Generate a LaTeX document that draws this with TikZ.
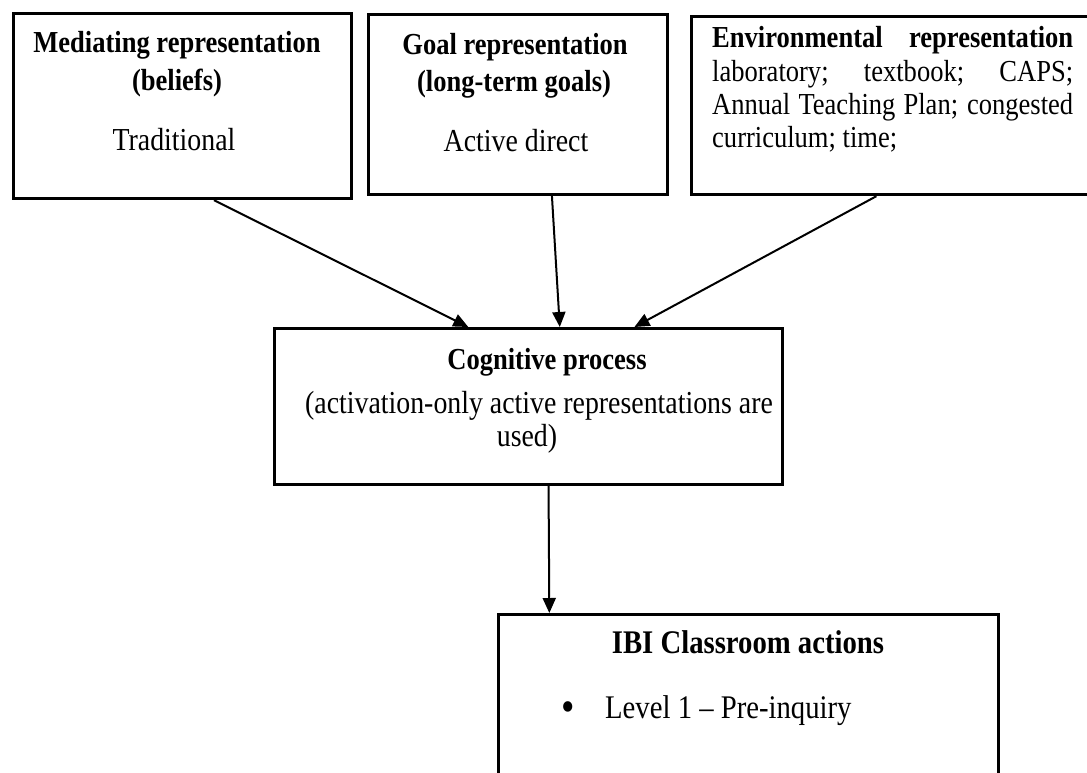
\documentclass[tikz,border=0pt]{standalone}
\usepackage{fontspec}
\setmainfont{Liberation Serif}[FakeStretch=0.87]
\usetikzlibrary{arrows.meta,calc}

\tikzset{
  box/.style={draw=black, line width=3.2pt, inner sep=0pt, anchor=north west},
  txt/.style={inner sep=0pt, font=\fontsize{32pt}{38pt}\selectfont},
  btxt/.style={inner sep=0pt, font=\fontsize{30.5pt}{36pt}\selectfont\bfseries},
  jtxt/.style={inner sep=0pt, font=\fontsize{30.5pt}{36pt}\selectfont},
  link/.style={line width=2pt, -{Triangle[length=15pt,width=13pt]}},
}

\begin{document}
\begin{tikzpicture}[x=1pt, y=-1pt]
  \useasboundingbox[fill=white] (0,0) rectangle (1087,772);

  % upper row of representations
  \node[box, minimum width=338pt, minimum height=185pt] (med) at (12,12) {};
  \node[box, minimum width=299pt, minimum height=180pt] (goal) at (367,13) {};
  \node[box, minimum width=410pt, minimum height=178pt] (env) at (690,15) {};

  % central process and resulting actions
  \node[box, minimum width=508pt, minimum height=156pt] (cog) at (273,327) {};
  \node[box, minimum width=500pt, minimum height=200pt] (ibi) at (497,613) {};

  % texts of the mediating representation
  \node[btxt, anchor=base] (m1) at (177,52) {Mediating representation};
  \node[btxt, anchor=base] (m2) at (177,90) {(beliefs)};
  \node[txt, anchor=base] (m3) at (174,150) {Traditional};

  % texts of the goal representation
  \node[btxt, anchor=base] (g1) at (515,54) {Goal representation};
  \node[btxt, anchor=base] (g2) at (514,91) {(long-term goals)};
  \node[txt, anchor=base] (g3) at (516,151) {Active direct};

  % justified texts of the environmental representation
  \node[btxt, anchor=base west] (e1) at (712,47) {\makebox[361pt][s]{Environmental representation}};
  \node[jtxt, anchor=base west] (e2) at (712,81) {\makebox[361pt][s]{laboratory; textbook; CAPS;}};
  \node[jtxt, anchor=base west] (e3) at (712,114) {\makebox[361pt][s]{Annual Teaching Plan; congested}};
  \node[jtxt, anchor=base west] (e4) at (712,147) {curriculum; time;};

  % texts of the cognitive process
  \node[btxt, anchor=base] (c1) at (547,369) {Cognitive process};
  \node[txt, anchor=base] (c2) at (539,413) {(activation-only active representations are};
  \node[txt, anchor=base] (c3) at (527,446) {used)};

  % texts of the classroom actions
  \node[btxt, anchor=base, font=\fontsize{33pt}{39pt}\selectfont\bfseries] (i1) at (748,653) {IBI Classroom actions};
  \node[txt, anchor=base, font=\fontsize{44pt}{50pt}\selectfont] (i2) at (568,721) {•};
  \node[txt, anchor=base west, font=\fontsize{33pt}{39pt}\selectfont] (i3) at (605,718) {Level 1 – Pre-inquiry};

  % connectors
  \draw[link] ($(med.south west)!0.592!(med.south east)$) -- ($(cog.north west)!0.382!(cog.north east)$);
  \draw[link] ($(goal.south west)!0.612!(goal.south east)$) -- ($(cog.north west)!0.561!(cog.north east)$);
  \draw[link] ($(env.south west)!0.451!(env.south east)$) -- ($(cog.north west)!0.707!(cog.north east)$);
  \draw[link] ($(cog.south west)!0.539!(cog.south east)$) -- ($(ibi.north west)!0.104!(ibi.north east)$);
\end{tikzpicture}
\end{document}
